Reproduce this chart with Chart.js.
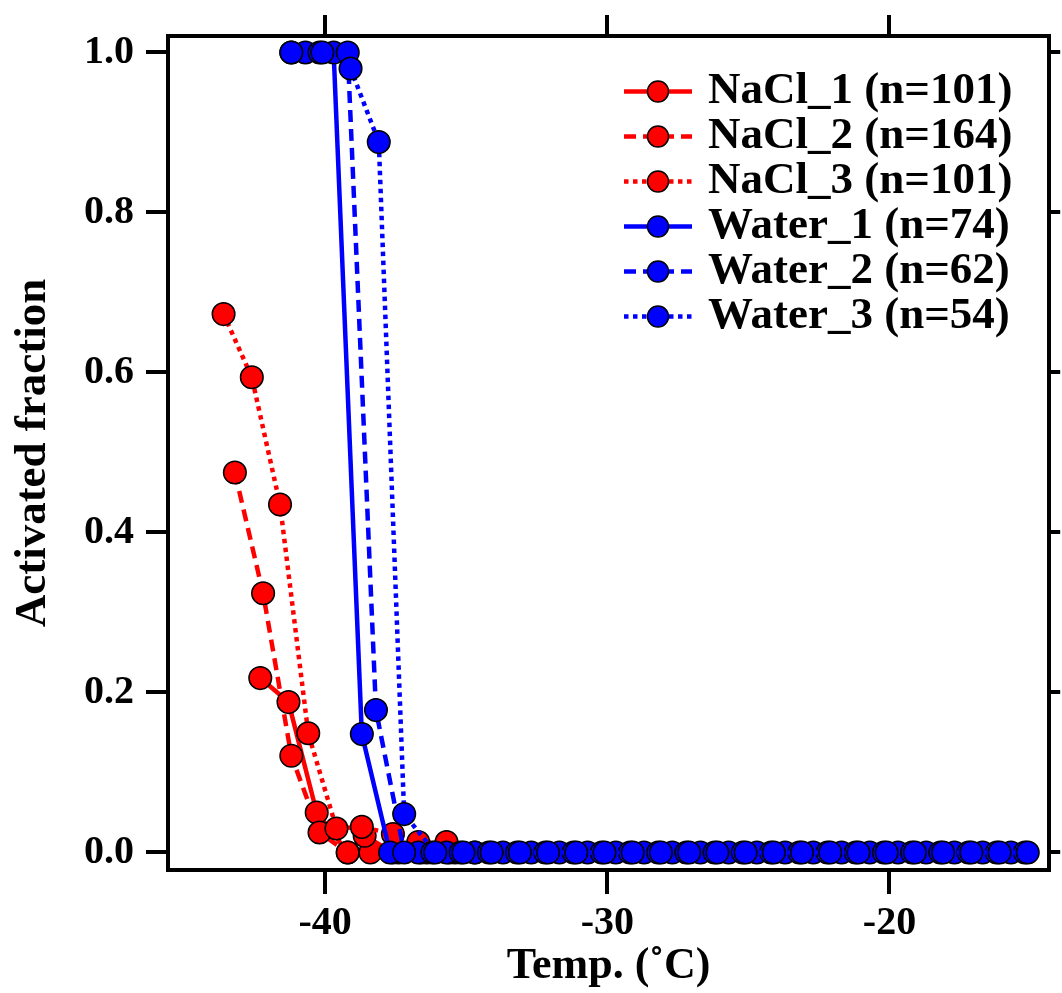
<!DOCTYPE html>
<html>
<head>
<meta charset="utf-8">
<script src="https://cdn.jsdelivr.net/npm/chart.js@4"></script>
<style>
  body { margin: 0; background: #fff; }
  #wrap { width: 1062px; height: 993px; }
</style>
</head>
<body>
<div id="wrap"><canvas id="chartAF" width="1062" height="993"></canvas></div>
<script>
/**************************************
 *              DADOS
 **************************************/
const nacl1Temp = [-42.3, -41.3, -40.3, -39.2, -38.4, -37.4, -36.4, -35.4];
const nacl1Frac = [0.218, 0.188, 0.050, 0, 0, 0, 0, 0];

const nacl2Temp = [-43.2, -42.2, -41.2, -40.2, -39.2, -38.6, -37.6, -36.6, -35.6];
const nacl2Frac = [0.475, 0.324, 0.121, 0.025, 0, 0.021, 0, 0, 0];

const nacl3Temp = [-43.6, -42.6, -41.6, -40.6, -39.6, -38.7, -37.6, -36.7, -35.7, -34.7];
const nacl3Frac = [0.673, 0.594, 0.435, 0.149, 0.030, 0.032, 0.023, 0.013, 0.013, 0];

const water1Temp = [-40.7, -39.7, -38.7, -37.7, -36.7, -35.7, -34.7, -33.7, -32.7, -31.7, -30.7,
  -29.7, -28.7, -27.7, -26.7, -25.7, -24.7, -23.7, -22.7, -21.7, -20.7, -19.7, -18.7, -17.7, -16.7, -15.7];
const water1Frac = [1, 1, 0.148, 0, 0, 0, 0, 0, 0, 0, 0,
  0, 0, 0, 0, 0, 0, 0, 0, 0, 0, 0, 0, 0, 0, 0];

const water2Temp = [-41.2, -40.2, -39.2, -38.2, -37.2, -36.2, -35.2, -34.2, -33.2, -32.2, -31.2, -30.2,
  -29.2, -28.2, -27.2, -26.2, -25.2, -24.2, -23.2, -22.2, -21.2, -20.2, -19.2, -18.2, -17.2, -16.2, -15.2];
const water2Frac = [1, 1, 1, 0.178, 0, 0, 0, 0, 0, 0, 0, 0,
  0, 0, 0, 0, 0, 0, 0, 0, 0, 0, 0, 0, 0, 0, 0];

const water3Temp = [-41.2, -40.1, -39.1, -38.1, -37.2, -36.1, -35.1, -34.1, -33.1, -32.1, -31.1, -30.1,
  -29.1, -28.1, -27.1, -26.1, -25.1, -24.1, -23.1, -22.1, -21.1, -20.1, -19.1, -18.1, -17.1, -16.1, -15.1];
const water3Frac = [1, 1, 0.98, 0.888, 0.048, 0, 0, 0, 0, 0, 0, 0,
  0, 0, 0, 0, 0, 0, 0, 0, 0, 0, 0, 0, 0, 0, 0];

const seriesLabels = ["NaCl_1 (n=101)", "NaCl_2 (n=164)", "NaCl_3 (n=101)",
  "Water_1 (n=74)", "Water_2 (n=62)", "Water_3 (n=54)"];

const xTickValues = [-40, -30, -20];
const yTickValues = [0.0, 0.2, 0.4, 0.6, 0.8, 1.0];

/**************************************
 *              ESTILO
 **************************************/
const FONT = "'Liberation Serif', 'Times New Roman', serif";
const RED = "#ff0000";
const BLUE = "#0000ff";
const DASHED = [12, 7];
const DOTTED = [4.5, 4.5];

function toPoints(xs, ys) {
  return xs.map((x, i) => ({ x: x, y: ys[i] }));
}

function makeDataset(label, xs, ys, color, dash, order) {
  return {
    label: label,
    data: toPoints(xs, ys),
    borderColor: color,
    backgroundColor: color,
    borderWidth: 4.5,
    borderDash: dash,
    borderCapStyle: "butt",
    tension: 0,
    pointRadius: 11.3,
    pointBorderWidth: 1.5,
    pointBorderColor: "#000",
    pointBackgroundColor: color,
    order: order,
  };
}

/**************************************
 *     LEGENDA DENTRO DO GRÃFICO
 **************************************/
const insideLegend = {
  id: "insideLegend",
  afterDraw(chart) {
    const ctx = chart.ctx;
    const rowTop = 91.5;
    const rowStep = 45;
    chart.data.datasets.forEach((ds, i) => {
      const y = rowTop + i * rowStep;
      ctx.save();
      ctx.strokeStyle = ds.borderColor;
      ctx.lineWidth = 4.5;
      ctx.setLineDash(ds.borderDash || []);
      ctx.lineCap = "butt";
      ctx.beginPath();
      ctx.moveTo(624, y);
      ctx.lineTo(692, y);
      ctx.stroke();
      ctx.setLineDash([]);
      ctx.beginPath();
      ctx.arc(658, y, 10.5, 0, Math.PI * 2);
      ctx.fillStyle = ds.pointBackgroundColor;
      ctx.fill();
      ctx.lineWidth = 1.5;
      ctx.strokeStyle = "#000";
      ctx.stroke();
      ctx.fillStyle = "#000";
      ctx.font = "bold 45px " + FONT;
      ctx.textAlign = "left";
      ctx.textBaseline = "middle";
      ctx.fillText(ds.label, 708, y);
      ctx.restore();
    });
  },
};

/**************************************
 *              EIXOS
 **************************************/
function frameGrid(len) {
  return {
    drawOnChartArea: false,
    drawTicks: true,
    tickLength: len,
    lineWidth: 4,
    tickWidth: 4,
    color: "#000",
    tickColor: "#000",
  };
}
const frameBorder = { display: true, width: 4, color: "#000" };

const X_MIN = -45.57, X_MAX = -14.34;
const Y_MIN = -0.0219, Y_MAX = 1.0206;

function fixedTicks(values) {
  return (axis) => { axis.ticks = values.map((v) => ({ value: v })); };
}

/**************************************
 *              GRÃFICO
 **************************************/
function initializeChart() {
  const ctx = document.getElementById("chartAF").getContext("2d");
  new Chart(ctx, {
    type: "line",
    data: {
      datasets: [
        makeDataset(seriesLabels[0], nacl1Temp, nacl1Frac, RED, [], 6),
        makeDataset(seriesLabels[1], nacl2Temp, nacl2Frac, RED, DASHED, 5),
        makeDataset(seriesLabels[2], nacl3Temp, nacl3Frac, RED, DOTTED, 4),
        makeDataset(seriesLabels[3], water1Temp, water1Frac, BLUE, [], 3),
        makeDataset(seriesLabels[4], water2Temp, water2Frac, BLUE, DASHED, 2),
        makeDataset(seriesLabels[5], water3Temp, water3Frac, BLUE, DOTTED, 1),
      ],
    },
    options: {
      responsive: false,
      animation: false,
      layout: { padding: 0 },
      plugins: { legend: { display: false }, tooltip: { enabled: false } },
      scales: {
        x: {
          type: "linear",
          position: "bottom",
          min: X_MIN,
          max: X_MAX,
          afterBuildTicks: fixedTicks(xTickValues),
          afterFit: (s) => { s.height = 123; },
          grid: frameGrid(24),
          border: frameBorder,
          ticks: {
            color: "#000",
            padding: 6,
            maxRotation: 0,
            font: { family: FONT, size: 40, weight: "bold" },
            callback: (v) => String(v),
          },
          title: {
            display: true,
            text: "Temp. (˚C)",
            color: "#000",
            padding: { top: 0, bottom: 0 },
            font: { family: FONT, size: 44, weight: "bold" },
          },
        },
        x2: {
          type: "linear",
          position: "top",
          min: X_MIN,
          max: X_MAX,
          afterBuildTicks: fixedTicks(xTickValues),
          afterFit: (s) => { s.height = 36; },
          grid: frameGrid(21),
          border: frameBorder,
          ticks: { display: false },
        },
        y: {
          type: "linear",
          position: "left",
          min: Y_MIN,
          max: Y_MAX,
          afterBuildTicks: fixedTicks(yTickValues),
          afterFit: (s) => { s.width = 168; },
          grid: frameGrid(22),
          border: frameBorder,
          ticks: {
            color: "#000",
            padding: 12,
            font: { family: FONT, size: 40, weight: "bold" },
            callback: (v) => Number(v).toFixed(1),
          },
          title: {
            display: true,
            text: "Activated fraction",
            color: "#000",
            padding: { top: 6, bottom: 0 },
            font: { family: FONT, size: 45, weight: "bold" },
          },
        },
        y2: {
          type: "linear",
          position: "right",
          min: Y_MIN,
          max: Y_MAX,
          afterBuildTicks: fixedTicks(yTickValues),
          afterFit: (s) => { s.width = 11; },
          grid: frameGrid(11),
          border: frameBorder,
          ticks: { display: false },
        },
      },
    },
    plugins: [insideLegend],
  });
}

window.onload = () => {
  initializeChart();
};
</script>
</body>
</html>
